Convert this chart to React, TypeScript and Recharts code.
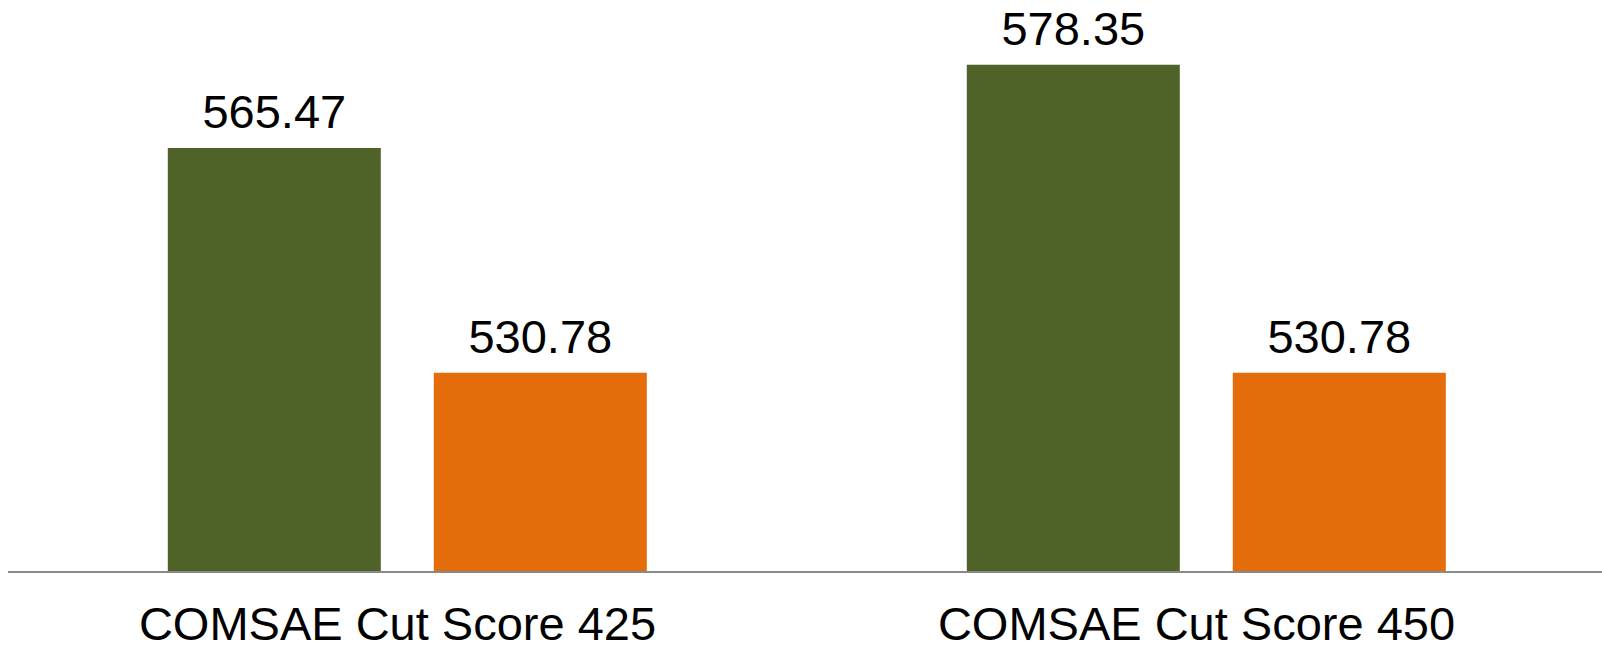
import React from 'react';
import { BarChart, Bar, XAxis, YAxis, LabelList } from 'recharts';

const categories = ['COMSAE Cut Score 425', 'COMSAE Cut Score 450'];
const firstSeries = [565.47, 578.35];
const secondSeries = [530.78, 530.78];

const data = categories.map((name, i) => ({
  name,
  first: firstSeries[i],
  second: secondSeries[i],
}));

const FONT = '"Liberation Sans", Arial, sans-serif';

const CategoryTick = (props: any) => {
  const { x, y, payload } = props;
  return (
    <text x={x - 10} y={y + 68} textAnchor="middle" fontSize={47} fontFamily={FONT} fill="#000">
      {payload.value}
    </text>
  );
};

export default function App() {
  return (
    <div style={{ position: 'absolute', left: 0, top: 0, width: 1602, height: 650, overflow: 'hidden', background: '#fff' }}>
      <BarChart
        width={1606}
        height={650}
        data={data}
        margin={{ top: 54, right: 0, bottom: 0, left: 8 }}
        barCategoryGap="20%"
        barGap={53}
      >
        <XAxis
          dataKey="name"
          height={78}
          tickLine={false}
          tickSize={0}
          tickMargin={0}
          axisLine={{ stroke: '#898989', strokeWidth: 2 }}
          tick={<CategoryTick />}
          interval={0}
        />
        <YAxis hide domain={[500, 580]} />
        <Bar dataKey="first" fill="#4F6228" isAnimationActive={false}>
          <LabelList dataKey="first" position="top" offset={20} fontSize={47} fontFamily={FONT} fill="#000" />
        </Bar>
        <Bar dataKey="second" fill="#E46C0A" isAnimationActive={false}>
          <LabelList dataKey="second" position="top" offset={20} fontSize={47} fontFamily={FONT} fill="#000" />
        </Bar>
      </BarChart>
    </div>
  );
}
